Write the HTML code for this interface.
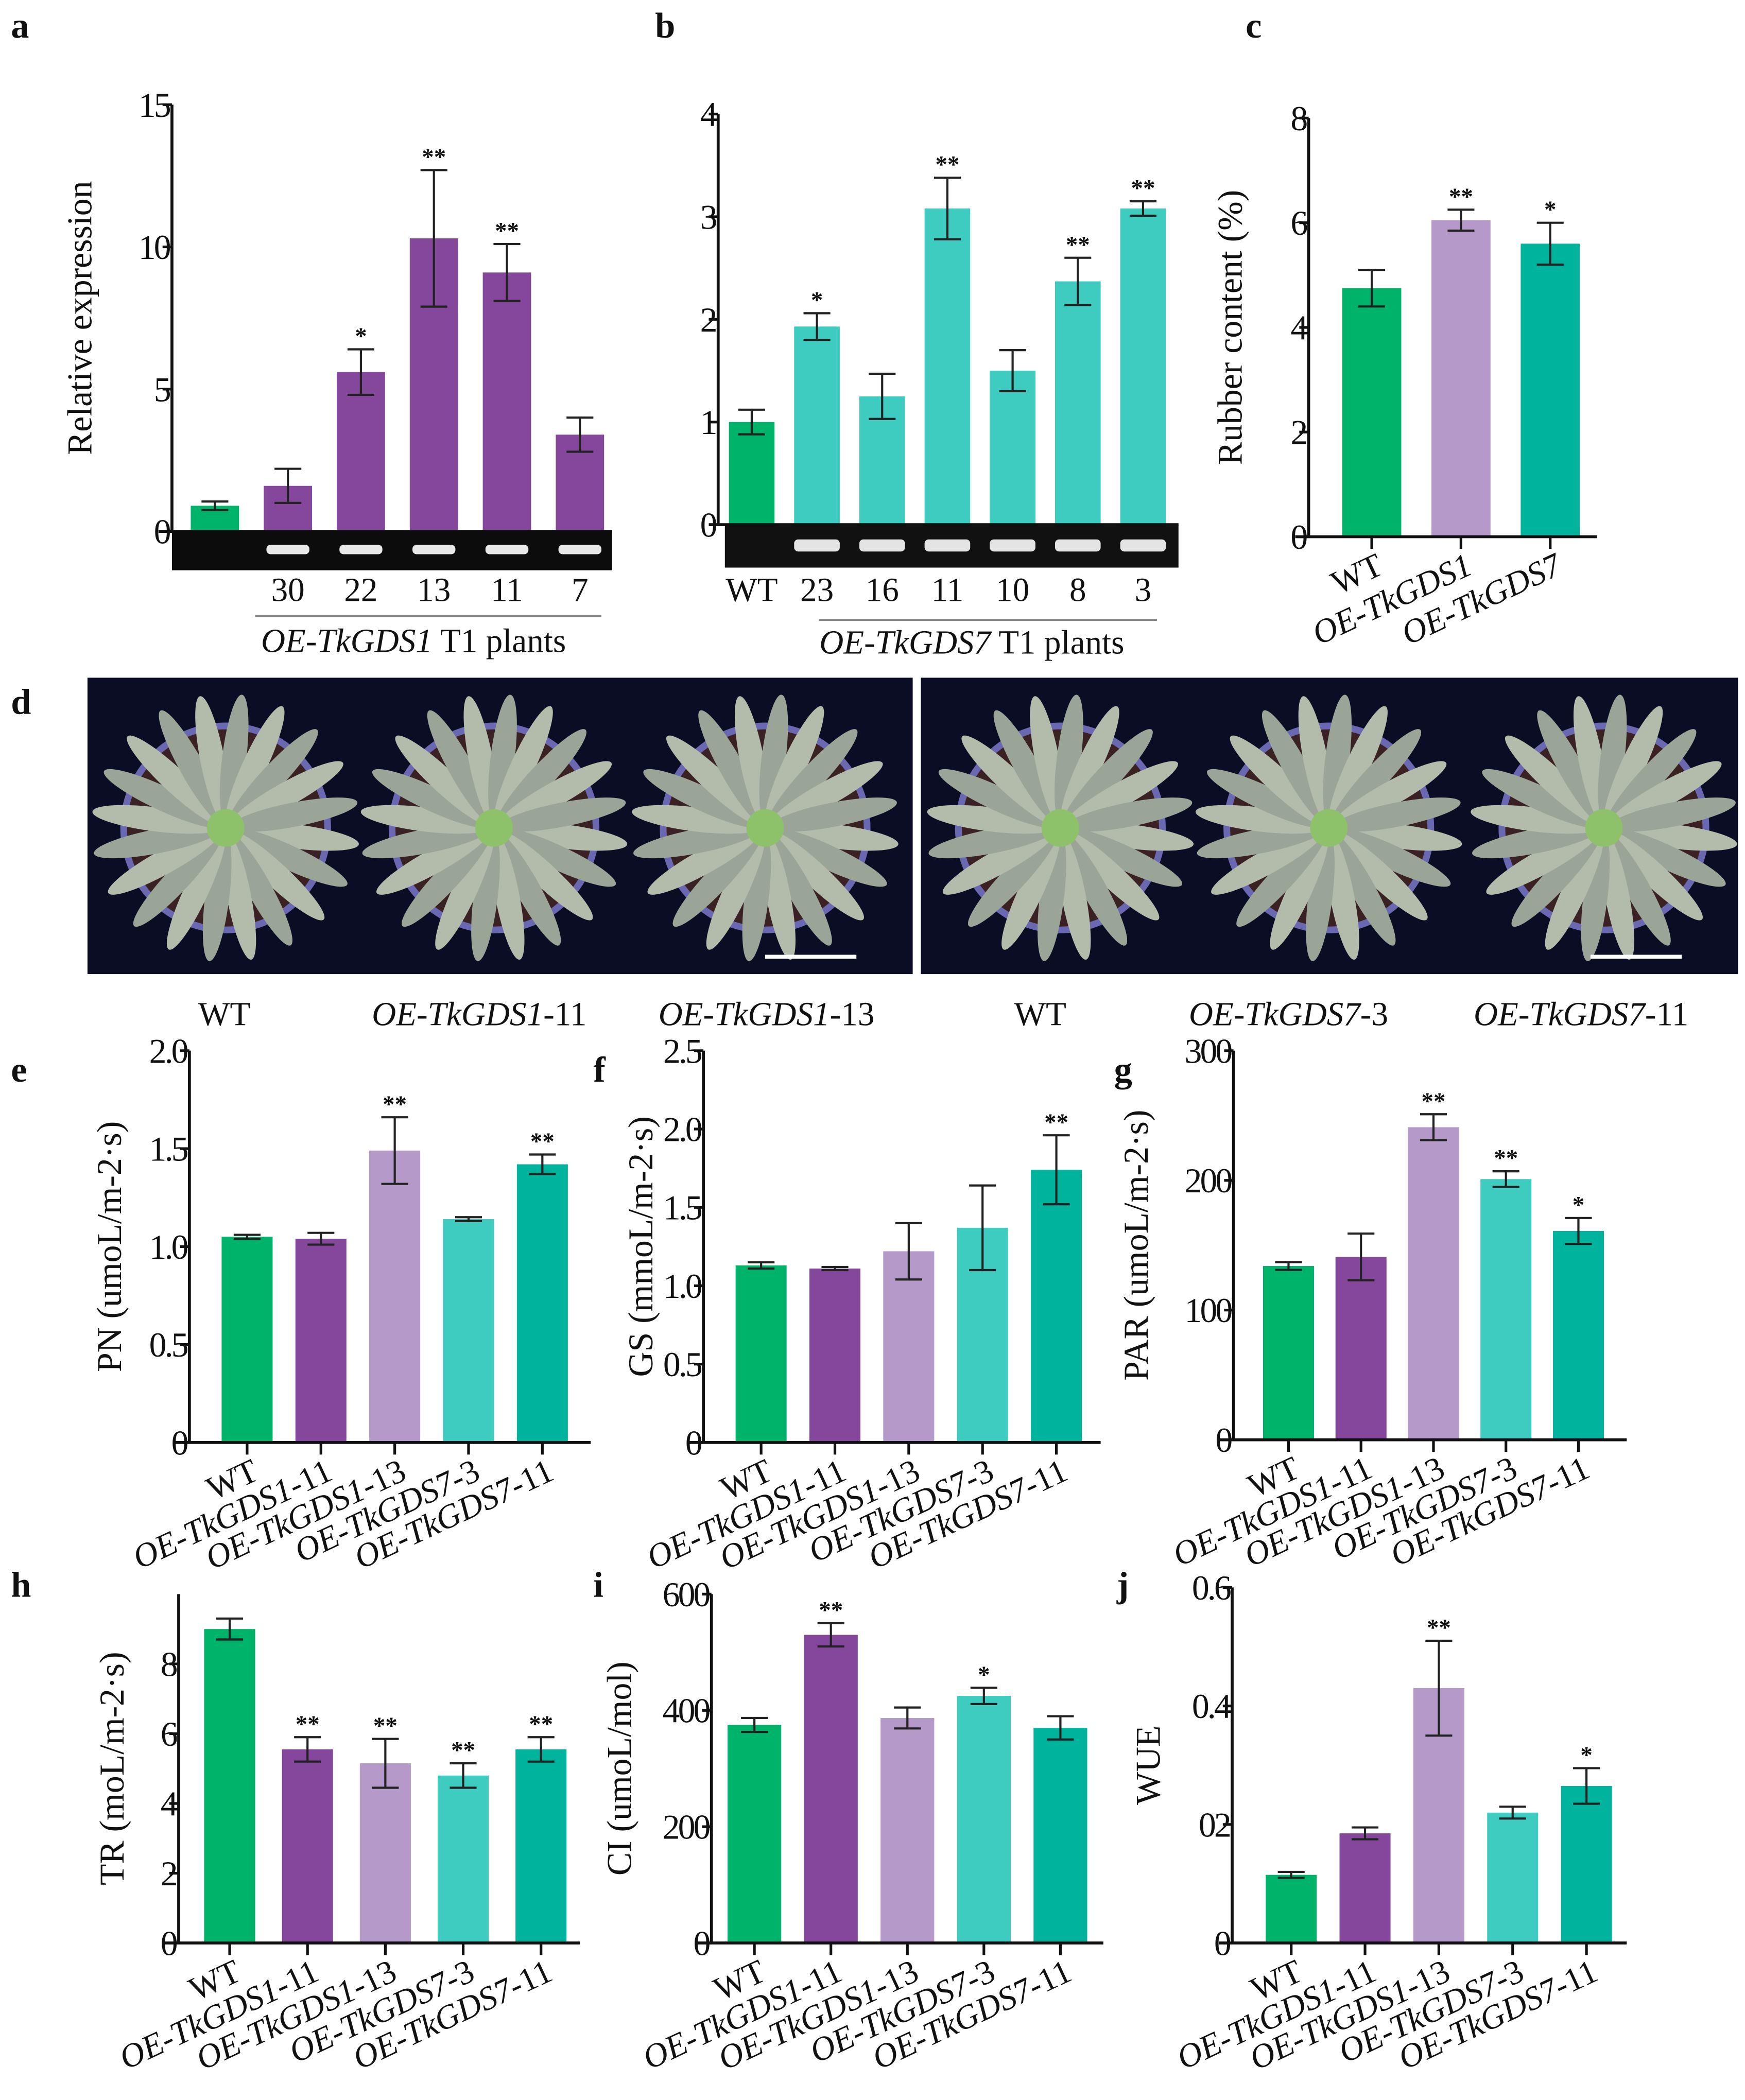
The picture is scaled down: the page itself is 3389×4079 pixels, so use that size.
<!DOCTYPE html>
<html><head><meta charset="utf-8"><style>
html,body{margin:0;padding:0;background:#fff;}
svg{display:block;}
text{font-family:"Liberation Serif","DejaVu Serif",serif;fill:#111;}
</style></head><body>
<svg id="fig" xmlns="http://www.w3.org/2000/svg" width="3389" height="4079" viewBox="0 0 1300 1565">
<defs>
<clipPath id="clipL"><rect x="65" y="505" width="615" height="221"/></clipPath>
<clipPath id="clipR"><rect x="686" y="505" width="609" height="221"/></clipPath>
</defs>
</svg>
<script>
// ---- Panel a data ----
const aCats = ["", "30", "22", "13", "11", "7"];
const aVals = [0.9, 1.6, 5.6, 10.3, 9.1, 3.4];
const aErrs = [0.15, 0.6, 0.8, 2.4, 1.0, 0.6];
const aStars = ["", "", "*", "**", "**", ""];
const aTicks = [0, 5, 10, 15];
// ---- Panel b data ----
const bCats = ["WT", "23", "16", "11", "10", "8", "3"];
const bVals = [1.0, 1.93, 1.25, 3.08, 1.5, 2.37, 3.08];
const bErrs = [0.12, 0.13, 0.22, 0.3, 0.2, 0.23, 0.07];
const bStars = ["", "*", "", "**", "", "**", "**"];
const bTicks = [0, 1, 2, 3, 4];
// ---- Panel c data ----
const cCats = ["WT", "OE-TkGDS1", "OE-TkGDS7"];
const cVals = [4.75, 6.05, 5.6];
const cErrs = [0.35, 0.2, 0.4];
const cStars = ["", "**", "*"];
const cTicks = [0, 2, 4, 6, 8];
// ---- Panels e-j shared categories ----
const lineCats = ["WT", "OE-TkGDS1-11", "OE-TkGDS1-13", "OE-TkGDS7-3", "OE-TkGDS7-11"];
const eVals = [1.05, 1.04, 1.49, 1.14, 1.42];
const eErrs = [0.01, 0.03, 0.17, 0.01, 0.05];
const eStars = ["", "", "**", "", "**"];
const eTicks = [0, 0.5, 1.0, 1.5, 2.0];
const eTickLabels = ["0", "0.5", "1.0", "1.5", "2.0"];
const fVals = [1.13, 1.11, 1.22, 1.37, 1.74];
const fErrs = [0.02, 0.01, 0.18, 0.27, 0.22];
const fStars = ["", "", "", "", "**"];
const fTicks = [0, 0.5, 1.0, 1.5, 2.0, 2.5];
const fTickLabels = ["0", "0.5", "1.0", "1.5", "2.0", "2.5"];
const gVals = [134, 141, 241, 201, 161];
const gErrs = [3, 18, 10, 6, 10];
const gStars = ["", "", "**", "**", "*"];
const gTicks = [0, 100, 200, 300];
const gTickLabels = ["0", "100", "200", "300"];
const hVals = [9.0, 5.55, 5.15, 4.8, 5.55];
const hErrs = [0.3, 0.35, 0.7, 0.35, 0.35];
const hStars = ["", "**", "**", "**", "**"];
const hTicks = [0, 2, 4, 6, 8];
const hTickLabels = ["0", "2", "4", "6", "8"];
const iVals = [375, 530, 387, 425, 370];
const iErrs = [12, 20, 18, 14, 20];
const iStars = ["", "**", "", "*", ""];
const iTicks = [0, 200, 400, 600];
const iTickLabels = ["0", "200", "400", "600"];
const jVals = [0.115, 0.185, 0.43, 0.22, 0.265];
const jErrs = [0.005, 0.01, 0.08, 0.01, 0.03];
const jStars = ["", "", "**", "", "*"];
const jTicks = [0, 0.2, 0.4, 0.6];
const jTickLabels = ["0", "02", "0.4", "0.6"];

const NS = "http://www.w3.org/2000/svg";
const svg = document.getElementById("fig");
const GREEN = "#00b36b", PURPLE = "#84479b", LAV = "#b599c9", TURQ = "#3ecbc0", TEAL = "#00b39c";
const fiveColors = [GREEN, PURPLE, LAV, TURQ, TEAL];

function el(tag, attrs, parent) {
  const e = document.createElementNS(NS, tag);
  for (const k in attrs) e.setAttribute(k, attrs[k]);
  (parent || svg).appendChild(e);
  return e;
}
function txt(s, attrs, parent) {
  const t = el("text", attrs, parent);
  t.textContent = s;
  return t;
}

function chart(o) {
  const g = el("g", {});
  
  
  const y = v => o.y0 - (v - o.vmin) / (o.vmax - o.vmin) * (o.y0 - o.ytop);
  const x = i => o.x1 + o.off + i * o.step;
  o.vals.forEach((v, i) => {
    const r = el("rect", {x: x(i) - o.bw / 2, y: y(v), width: o.bw, height: o.y0 - y(v), fill: o.colors[i]}, g);
    
    
    const e = o.errs[i];
    const eb = el("path", {d: `M${x(i)},${y(v + e)}V${y(v - e)}M${x(i) - 10},${y(v + e)}h20M${x(i) - 10},${y(v - e)}h20`, stroke: "#222", "stroke-width": 1.6, fill: "none"}, g);
    
    
    if (o.stars[i]) {
      const s = txt(o.stars[i], {x: x(i), y: y(v + e) - 4, "text-anchor": "middle", "font-size": 18, "font-weight": "bold"}, g);
      
      
    }
  });
  const ax = el("path", {d: `M${o.x1},${o.ytop}V${o.y0}M${o.xa0},${o.y0}H${o.xa1}`, stroke: "#111", "stroke-width": 2.2, fill: "none"}, g);
  
  
  o.ticks.forEach((t, k) => {
    el("path", {d: `M${o.x1 - 7},${y(t)}H${o.x1}`, stroke: "#111", "stroke-width": 2}, g);
    const tl = txt(o.tickLabels[k], {x: o.x1 - 2, y: y(t) + 9, "text-anchor": "end", "font-size": 26, "letter-spacing": "-1.5"}, g);
    
    
  });
  if (o.ytitle) {
    const yt = txt(o.ytitle, {x: 0, y: 0, "text-anchor": "middle", "font-size": 26, transform: `translate(${o.ytx},${(o.y0 + o.ytop) / 2}) rotate(-90)`}, g);
    
    
  }
  if (o.xlabels) {
    o.xlabels.forEach((c, i) => {
      el("path", {d: `M${x(i)},${o.y0}v9`, stroke: "#111", "stroke-width": 2}, g);
      const parts = c.match(/^(OE-TkGDS\d)(.*)$/);
      const t = el("text", {x: 0, y: 0, "text-anchor": "end", "font-size": 25, transform: `translate(${x(i) + 10},${o.y0 + 27}) rotate(-25)`}, g);
      
      
      if (parts) {
        const a = document.createElementNS(NS, "tspan"); a.setAttribute("font-style", "italic"); a.textContent = parts[1]; t.appendChild(a);
        const b = document.createElementNS(NS, "tspan"); b.textContent = parts[2]; t.appendChild(b);
      } else t.textContent = c;
    });
  }
  return {x, y, g};
}
function panelLetter(s, x, y) {
  const t = txt(s, {x, y, "font-size": 27, "font-weight": "bold"});
  
  
}

// ---- a ----
panelLetter("a", 8, 28);
const A = chart({name: "chart-a", vals: aVals, errs: aErrs, stars: aStars, colors: [GREEN, PURPLE, PURPLE, PURPLE, PURPLE, PURPLE],
  x1: 128, off: 32, step: 54.4, bw: 36, y0: 396, ytop: 78, vmin: 0, vmax: 15, ticks: aTicks, tickLabels: aTicks.map(String),
  xa0: 118, xa1: 456, ytitle: "Relative expression", ytx: 68});
const gelA = el("rect", {x: 128, y: 396, width: 328, height: 29, fill: "#0c0c0c"});


aCats.forEach((c, i) => {
  if (i > 0) el("rect", {x: A.x(i) - 16, y: 406, width: 32, height: 7, rx: 3, fill: "#e8e8e8"});
  if (c) { const t = txt(c, {x: A.x(i), y: 448, "text-anchor": "middle", "font-size": 25});   }
});
el("path", {d: "M190,459H448", stroke: "#888", "stroke-width": 1.5});
{ const t = txt("", {x: 308, y: 486, "text-anchor": "middle", "font-size": 25}); t.innerHTML = '<tspan font-style="italic">OE-TkGDS1</tspan> T1 plants';   }

// ---- b ----
panelLetter("b", 488, 28);
const B = chart({name: "chart-b", vals: bVals, errs: bErrs, stars: bStars, colors: [GREEN, TURQ, TURQ, TURQ, TURQ, TURQ, TURQ],
  x1: 535, off: 25, step: 48.6, bw: 34, y0: 391, ytop: 85, vmin: 0, vmax: 4, ticks: bTicks, tickLabels: bTicks.map(String),
  xa0: 528, xa1: 878, ytitle: "", ytx: 0});
const gelB = el("rect", {x: 540, y: 391, width: 338, height: 32, fill: "#111"});


bCats.forEach((c, i) => {
  if (i > 0) el("rect", {x: B.x(i) - 17, y: 402, width: 34, height: 9, rx: 3, fill: "#e4e4e4"});
  const t = txt(c, {x: B.x(i), y: 448, "text-anchor": "middle", "font-size": 25});  
});
el("path", {d: "M610,462H862", stroke: "#888", "stroke-width": 1.5});
{ const t = txt("", {x: 724, y: 487, "text-anchor": "middle", "font-size": 25}); t.innerHTML = '<tspan font-style="italic">OE-TkGDS7</tspan> T1 plants';   }

// ---- c ----
panelLetter("c", 928, 28);
chart({name: "chart-c", vals: cVals, errs: cErrs, stars: cStars, colors: [GREEN, LAV, TEAL],
  x1: 975, off: 47, step: 66.5, bw: 44, y0: 400, ytop: 88, vmin: 0, vmax: 8, ticks: cTicks, tickLabels: cTicks.map(String),
  xa0: 965, xa1: 1190, ytitle: "Rubber content (%)", ytx: 925, xlabels: cCats});

// ---- d photos ----
panelLetter("d", 8, 532);
function photo(x0, w, centers, name, clip) {
  const g = el("g", {"clip-path": `url(#${clip})`});
  
  
  el("rect", {x: x0, y: 505, width: w, height: 221, fill: "#0b0d24"}, g);
  centers.forEach(c => {
    el("circle", {cx: c, cy: 617, r: 76, fill: "#3a2224", stroke: "#6a68b0", "stroke-width": 5}, g);
    for (let k = 0; k < 20; k++) {
      const ang = k * 18 + 7;
      el("ellipse", {cx: c + 52, cy: 617, rx: 48, ry: 9, fill: k % 2 ? "#9aa597" : "#b3bcab", transform: `rotate(${ang},${c},617)`}, g);
    }
    el("circle", {cx: c, cy: 617, r: 14, fill: "#8ec26a"}, g);
  });
  el("path", {d: `M${x0 + w - 110},713h68`, stroke: "#fff", "stroke-width": 3}, g);
}
photo(65, 615, [168, 368, 570], "photo-gds1", "clipL");
photo(686, 609, [790, 990, 1195], "photo-gds7", "clipR");
const dLabels = [["WT", 167, ""], ["OE-TkGDS1", 357, "-11"], ["OE-TkGDS1", 571, "-13"], ["WT", 775, ""], ["OE-TkGDS7", 960, "-3"], ["OE-TkGDS7", 1178, "-11"]];
dLabels.forEach(d => {
  const t = txt("", {x: d[1], y: 764, "text-anchor": "middle", "font-size": 25});
  t.innerHTML = d[2] ? `<tspan font-style="italic">${d[0]}</tspan>${d[2]}` : d[0];
  
  
});

// ---- e-j ----
panelLetter("e", 8, 806);
chart({name: "chart-e", vals: eVals, errs: eErrs, stars: eStars, colors: fiveColors, x1: 141, off: 43, step: 55, bw: 38,
  y0: 1075, ytop: 783, vmin: 0, vmax: 2, ticks: eTicks, tickLabels: eTickLabels, xa0: 130, xa1: 440,
  ytitle: "PN (umoL/m-2·s)", ytx: 90, xlabels: lineCats});
panelLetter("f", 442, 806);
chart({name: "chart-f", vals: fVals, errs: fErrs, stars: fStars, colors: fiveColors, x1: 524, off: 43, step: 55, bw: 38,
  y0: 1075, ytop: 783, vmin: 0, vmax: 2.5, ticks: fTicks, tickLabels: fTickLabels, xa0: 513, xa1: 820,
  ytitle: "GS (mmoL/m-2·s)", ytx: 486, xlabels: lineCats});
panelLetter("g", 830, 806);
chart({name: "chart-g", vals: gVals, errs: gErrs, stars: gStars, colors: fiveColors, x1: 919, off: 41, step: 54, bw: 38,
  y0: 1073, ytop: 783, vmin: 0, vmax: 300, ticks: gTicks, tickLabels: gTickLabels, xa0: 908, xa1: 1212,
  ytitle: "PAR (umoL/m-2·s)", ytx: 855, xlabels: lineCats});
panelLetter("h", 8, 1190);
chart({name: "chart-h", vals: hVals, errs: hErrs, stars: hStars, colors: fiveColors, x1: 133, off: 38, step: 58, bw: 38,
  y0: 1448, ytop: 1188, vmin: 0, vmax: 10, ticks: hTicks, tickLabels: hTickLabels, xa0: 122, xa1: 432,
  ytitle: "TR (moL/m-2·s)", ytx: 92, xlabels: lineCats});
panelLetter("i", 442, 1190);
chart({name: "chart-i", vals: iVals, errs: iErrs, stars: iStars, colors: fiveColors, x1: 530, off: 32, step: 57, bw: 40,
  y0: 1448, ytop: 1188, vmin: 0, vmax: 600, ticks: iTicks, tickLabels: iTickLabels, xa0: 520, xa1: 822,
  ytitle: "CI (umoL/mol)", ytx: 470, xlabels: lineCats});
panelLetter("j", 832, 1190);
chart({name: "chart-j", vals: jVals, errs: jErrs, stars: jStars, colors: fiveColors, x1: 918, off: 44, step: 55, bw: 38,
  y0: 1448, ytop: 1183, vmin: 0, vmax: 0.6, ticks: jTicks, tickLabels: jTickLabels, xa0: 908, xa1: 1212,
  ytitle: "WUE", ytx: 864, xlabels: lineCats});
</script>
</body></html>
